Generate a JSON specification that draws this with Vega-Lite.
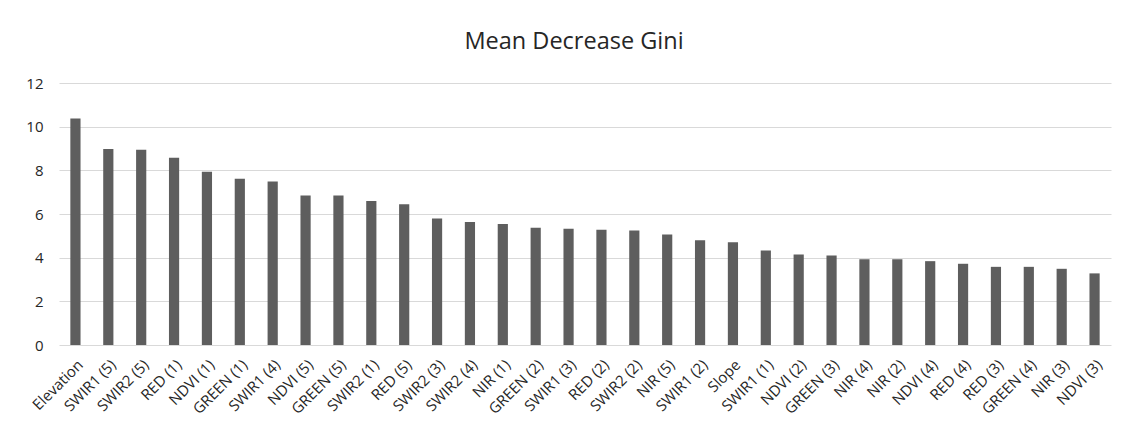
{
  "$schema": "https://vega.github.io/schema/vega-lite/v6.json",
  "autosize": {"type": "none"},
  "width": 1052,
  "height": 262,
  "padding": {"left": 59, "top": 83, "right": 10, "bottom": 87},
  "background": "white",
  "title": {
    "text": "Mean Decrease Gini",
    "font": "Open Sans",
    "fontSize": 23.5,
    "fontWeight": "normal",
    "color": "#262626",
    "anchor": "middle",
    "dx": -11,
    "offset": 23
  },
  "data": {
    "values": [
      {"variable": "Elevation", "gini": 10.37},
      {"variable": "SWIR1 (5)", "gini": 8.98},
      {"variable": "SWIR2 (5)", "gini": 8.94},
      {"variable": "RED (1)", "gini": 8.58},
      {"variable": "NDVI (1)", "gini": 7.93},
      {"variable": "GREEN (1)", "gini": 7.62},
      {"variable": "SWIR1 (4)", "gini": 7.49},
      {"variable": "NDVI (5)", "gini": 6.85},
      {"variable": "GREEN (5)", "gini": 6.85},
      {"variable": "SWIR2 (1)", "gini": 6.59},
      {"variable": "RED (5)", "gini": 6.45},
      {"variable": "SWIR2 (3)", "gini": 5.79},
      {"variable": "SWIR2 (4)", "gini": 5.63},
      {"variable": "NIR (1)", "gini": 5.54},
      {"variable": "GREEN (2)", "gini": 5.37},
      {"variable": "SWIR1 (3)", "gini": 5.32},
      {"variable": "RED (2)", "gini": 5.28},
      {"variable": "SWIR2 (2)", "gini": 5.25},
      {"variable": "NIR (5)", "gini": 5.06},
      {"variable": "SWIR1 (2)", "gini": 4.8},
      {"variable": "Slope", "gini": 4.71},
      {"variable": "SWIR1 (1)", "gini": 4.33},
      {"variable": "NDVI (2)", "gini": 4.15},
      {"variable": "GREEN (3)", "gini": 4.1},
      {"variable": "NIR (4)", "gini": 3.93},
      {"variable": "NIR (2)", "gini": 3.93},
      {"variable": "NDVI (4)", "gini": 3.84},
      {"variable": "RED (4)", "gini": 3.72},
      {"variable": "RED (3)", "gini": 3.58},
      {"variable": "GREEN (4)", "gini": 3.58},
      {"variable": "NIR (3)", "gini": 3.49},
      {"variable": "NDVI (3)", "gini": 3.28}
    ]
  },
  "mark": {"type": "bar", "color": "#5e5e5e", "width": {"band": 0.31}},
  "encoding": {
    "x": {
      "field": "variable",
      "type": "nominal",
      "sort": null,
      "title": null,
      "scale": {"paddingInner": 0, "paddingOuter": 0},
      "axis": {
        "labelAngle": -45,
        "labelFont": "Open Sans",
        "labelFontSize": 15,
        "labelColor": "#262626",
        "labelPadding": 12,
        "ticks": false,
        "domain": false,
        "grid": false
      }
    },
    "y": {
      "field": "gini",
      "type": "quantitative",
      "title": null,
      "scale": {"domain": [0, 12], "nice": false},
      "axis": {
        "values": [0, 2, 4, 6, 8, 10, 12],
        "labelFont": "Open Sans",
        "labelFontSize": 15,
        "labelColor": "#262626",
        "labelPadding": 16,
        "ticks": false,
        "domain": false,
        "grid": true,
        "gridColor": "#d9d9d9",
        "gridWidth": 1
      }
    }
  },
  "config": {
    "view": {"stroke": null}
  }
}
